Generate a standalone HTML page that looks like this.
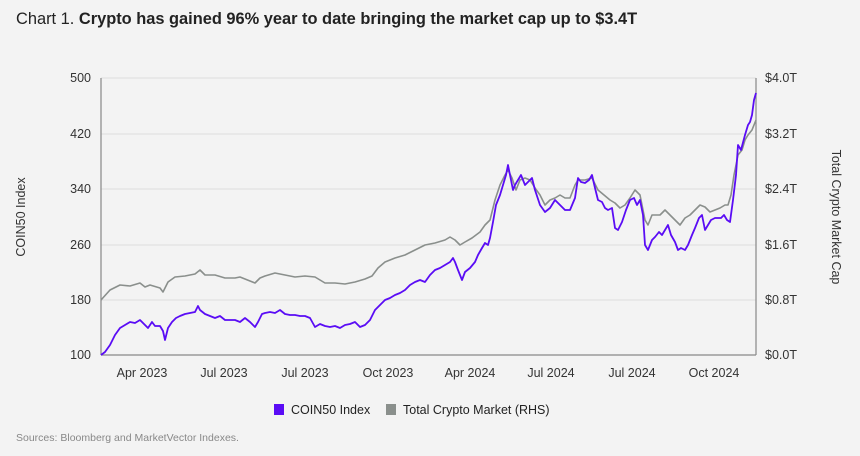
<!DOCTYPE html>
<html><head><meta charset="utf-8"><style>
html,body{margin:0;padding:0;background:#f3f3f3;}
svg{display:block;font-family:"Liberation Sans",sans-serif;}
</style></head><body>
<svg width="860" height="456" viewBox="0 0 860 456" xmlns="http://www.w3.org/2000/svg">
<rect width="860" height="456" fill="#f3f3f3"/>
<text x="16" y="24" font-size="16.4" fill="#222">Chart 1. <tspan font-weight="bold">Crypto has gained 96% year to date bringing the market cap up to $3.4T</tspan></text>
<g stroke="#dcdcdc" stroke-width="1">
<line x1="101" y1="78" x2="756" y2="78"/><line x1="101" y1="134" x2="756" y2="134"/>
<line x1="101" y1="189" x2="756" y2="189"/><line x1="101" y1="245" x2="756" y2="245"/>
<line x1="101" y1="300" x2="756" y2="300"/>
</g>
<g stroke="#888" stroke-width="1.2">
<line x1="101" y1="78" x2="101" y2="355"/><line x1="756" y1="78" x2="756" y2="355"/><line x1="101" y1="355" x2="756" y2="355"/>
</g>
<g font-size="12.5" fill="#333" text-anchor="end">
<text x="91" y="82">500</text><text x="91" y="138">420</text><text x="91" y="193">340</text>
<text x="91" y="249">260</text><text x="91" y="304">180</text><text x="91" y="359">100</text>
</g>
<g font-size="12.5" fill="#333">
<text x="765" y="82">$4.0T</text><text x="765" y="138">$3.2T</text><text x="765" y="193">$2.4T</text>
<text x="765" y="249">$1.6T</text><text x="765" y="304">$0.8T</text><text x="765" y="359">$0.0T</text>
</g>
<g font-size="12.5" fill="#333" text-anchor="middle">
<text x="142" y="377">Apr 2023</text><text x="224" y="377">Jul 2023</text><text x="305" y="377">Jul 2023</text>
<text x="388" y="377">Oct 2023</text><text x="470" y="377">Apr 2024</text><text x="551" y="377">Jul 2024</text>
<text x="632" y="377">Jul 2024</text><text x="714" y="377">Oct 2024</text>
</g>
<text transform="translate(25,217) rotate(-90)" font-size="12.5" fill="#333" text-anchor="middle">COIN50 Index</text>
<text transform="translate(832,217) rotate(90)" font-size="12.5" fill="#333" text-anchor="middle">Total Crypto Market Cap</text>
<polyline fill="none" stroke="#8a8f8c" stroke-width="1.6" stroke-linejoin="round" points="101,300 110,290 120,285 130,286 140,283 145,287 150,285 160,288 163,292 168,282 175,277 185,276 195,274 200,270 205,275 215,275 225,278 235,278 240,277 250,281 255,283 260,278 265,276 275,273 285,275 295,277 305,276 315,277 325,283 335,283 345,284 355,282 365,279 372,276 378,268 385,262 395,258 405,255 415,250 425,245 435,243 445,240 450,237 455,240 460,245 465,242 472,238 480,232 485,225 490,220 495,200 500,185 505,175 508,170 512,178 516,190 520,180 525,178 530,180 535,188 540,195 545,205 550,200 555,198 560,195 565,198 570,198 575,185 578,180 585,180 592,178 598,190 604,195 610,200 615,203 620,208 625,205 630,198 635,190 640,195 645,220 648,225 652,215 660,215 665,210 670,215 675,220 680,225 685,218 690,215 695,210 700,205 705,207 710,212 715,210 720,208 725,205 728,205 731,195 734,175 738,155 742,150 745,140 748,135 752,130 756,120"/>
<polyline fill="none" stroke="#5a0cf5" stroke-width="1.8" stroke-linejoin="round" points="101,355 105,352 110,345 115,335 120,328 125,325 130,322 135,323 140,320 145,325 148,328 152,322 155,326 160,326 163,331 165,340 168,328 172,322 176,318 180,316 185,314 190,313 195,312 198,306 200,310 205,314 210,316 215,318 220,316 225,320 230,320 235,320 240,322 245,318 250,322 255,327 258,322 262,314 265,313 270,312 275,313 280,310 285,314 290,315 295,315 300,316 305,316 310,318 315,327 320,324 325,326 330,327 335,326 340,328 345,325 350,324 355,322 360,327 365,325 370,320 375,310 380,305 385,300 390,298 395,295 400,293 405,290 410,285 415,282 420,280 425,282 430,275 435,270 440,268 445,265 450,262 453,258 455,262 458,270 462,280 465,272 470,268 475,262 478,255 482,248 485,243 488,245 490,238 493,222 496,205 500,195 503,185 506,175 508,165 510,175 513,190 515,185 518,180 521,175 525,185 528,182 532,178 535,190 540,205 545,212 550,208 555,200 560,205 565,210 570,210 575,198 578,178 581,182 585,183 589,180 592,175 595,188 598,200 602,202 605,208 608,210 612,208 615,228 618,230 622,222 626,210 630,200 634,198 637,205 640,200 643,215 645,245 648,250 652,240 655,237 659,232 662,235 665,230 668,225 671,235 675,242 678,250 681,248 685,250 688,245 692,235 695,228 699,218 702,215 705,230 708,225 711,220 715,218 718,218 721,218 724,215 727,220 730,222 733,200 736,175 738,145 741,150 745,135 748,125 750,122 752,115 754,100 756,93"/>
<rect x="274" y="404" width="10" height="11" fill="#5a0cf5"/>
<text x="291" y="414" font-size="12.5" fill="#222">COIN50 Index</text>
<rect x="386" y="404" width="10" height="11" fill="#8a8f8c"/>
<text x="403" y="414" font-size="12.5" fill="#222">Total Crypto Market (RHS)</text>
<text x="16" y="441" font-size="10.5" fill="#888">Sources: Bloomberg and MarketVector Indexes.</text>
</svg>
</body></html>
